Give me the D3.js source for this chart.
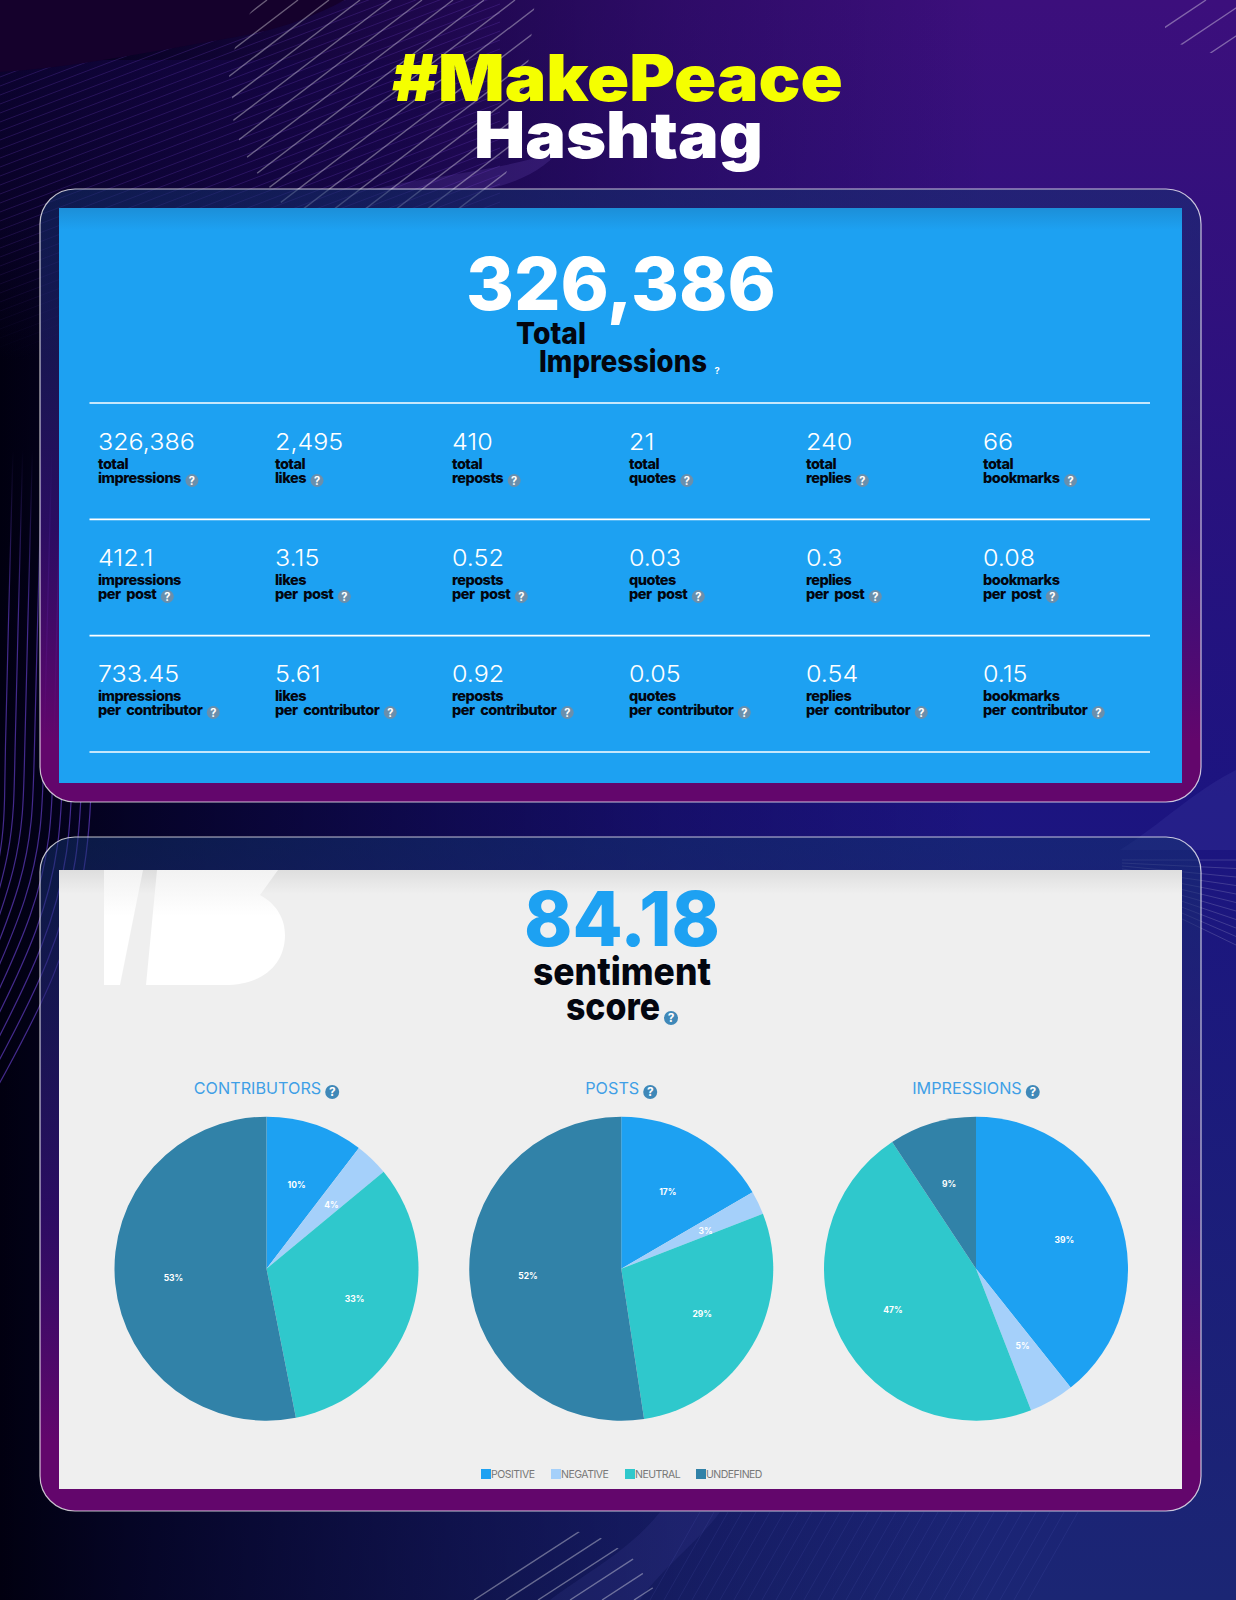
<!DOCTYPE html>
<html lang="en">
<head>
    <meta charset="UTF-8">
    <title>#MakePeace Hashtag</title>
    <script src="https://d3js.org/d3.v7.min.js"></script>
    <style>
        html, body { margin: 0; padding: 0; background: #02031a; }
        svg { display: block; }
        text { font-family: Inter, sans-serif; }
        .stat-value { fill: #fff; font-size: 23px; font-weight: 300; }
        .stat-label { fill: #03060f; font-size: 14.5px; font-weight: 800; letter-spacing: -0.5px; word-spacing: 3px; }
        .help text { fill: #fff; font-weight: 700; text-anchor: middle; }
        .pie-title { fill: #3f9fe6; font-size: 16.2px; font-weight: 400; text-anchor: middle; }
        .pct { fill: #fff; font-size: 8.5px; font-weight: 700; text-anchor: middle; }
        .legend-text { fill: #777; font-size: 10.5px; letter-spacing: -0.5px; }
    </style>
</head>
<body>
    <svg width="1236" height="1600"></svg>
    <script>
        const metrics = ["impressions", "likes", "reposts", "quotes", "replies", "bookmarks"];
        const rowNames = ["total", "per post", "per contributor"];
        const totals = ["326,386", "2,495", "410", "21", "240", "66"];
        const perPost = ["412.1", "3.15", "0.52", "0.03", "0.3", "0.08"];
        const perContributor = ["733.45", "5.61", "0.92", "0.05", "0.54", "0.15"];

        const sentiments = ["POSITIVE", "NEGATIVE", "NEUTRAL", "UNDEFINED"];
        const sentimentColors = ["#1da1f2", "#a5d0fa", "#2fc8cc", "#3182a8"];
        const pieNames = ["CONTRIBUTORS", "POSTS", "IMPRESSIONS"];
        const contributors = [10.4, 3.6, 32.9, 53.1];
        const posts = [16.6, 2.5, 28.5, 52.4];
        const impressions = [39.3, 4.8, 46.6, 9.3];

        const svg = d3.select("svg");
        const defs = svg.append("defs");

        function gradient(id, x2, y2, stops) {
            const g = defs.append("linearGradient").attr("id", id)
                .attr("x1", 0).attr("y1", 0).attr("x2", x2).attr("y2", y2);
            stops.forEach(s => g.append("stop").attr("offset", s[0]).attr("stop-color", s[1]).attr("stop-opacity", s[2]));
        }
        gradient("bgV", 0, 1, [[0, "#3c0f7c", 1], [0.5, "#1c1480", 1], [1, "#1b2674", 1]]);
        gradient("bgH", 1, 0, [[0, "#010010", 1], [0.12, "#02001a", 0.85], [0.55, "#05002a", 0.25], [0.8, "#05002a", 0]]);
        gradient("frame", 0, 1, [[0, "#12326e", 0.5], [0.55, "#38107a", 0.75], [0.9, "#63066c", 1], [1, "#63066c", 1]]);
        gradient("shadeBlue", 0, 1, [[0, "#1c8fd8", 1], [1, "#1da1f2", 1]]);
        gradient("shadeGray", 0, 1, [[0, "#dedede", 1], [1, "#efefef", 1]]);
        gradient("logo", 0, 1, [[0, "#f2f2f2", 1], [0.4, "#ffffff", 1], [1, "#ffffff", 1]]);
        gradient("topGlow", 0, 1, [[0, "#140548", 0.55], [0.5, "#140548", 0.4], [1, "#140548", 0]]);
        gradient("fineFade", 0, 1, [[0, "#fff", 1], [0.55, "#fff", 1], [1, "#fff", 0]]);
        const fade = defs.append("linearGradient").attr("id", "curveFade").attr("gradientUnits", "userSpaceOnUse")
            .attr("x1", 0).attr("y1", 450).attr("x2", 0).attr("y2", 620);
        fade.append("stop").attr("offset", 0).attr("stop-color", "#6f45dd").attr("stop-opacity", 0);
        fade.append("stop").attr("offset", 1).attr("stop-color", "#6f45dd").attr("stop-opacity", 0.6);

        // background
        svg.append("rect").attr("width", 1236).attr("height", 1600).attr("fill", "url(#bgV)");
        svg.append("rect").attr("width", 1236).attr("height", 1600).attr("fill", "url(#bgH)");
        svg.append("rect").attr("y", 60).attr("width", 420).attr("height", 300).attr("fill", "url(#topGlow)");
        const wave = "M0,0 L345,0 C310,18 280,30 230,38 C150,52 70,68 0,72 Z";
        svg.append("path").attr("d", wave).attr("fill", "#15012c");
        svg.append("path").attr("d", "M1236,770 L1236,850 L1120,850 C1160,825 1195,790 1236,770 Z").attr("fill", "#4a4ab0").attr("opacity", 0.2);
        svg.append("path").attr("d", "M370,190 C430,175 500,172 560,150 C540,175 500,190 470,190 Z").attr("fill", "#7a55c8").attr("opacity", 0.2);
        svg.append("path").attr("d", "M640,1600 C660,1570 700,1540 720,1512 L660,1512 C630,1550 590,1570 550,1600 Z").attr("fill", "#5a5ac0").attr("opacity", 0.12);

        // fine lines behind the wave, top left and bottom right
        defs.append("clipPath").attr("id", "fineTop").append("path").attr("d", "M0,72 C70,68 150,52 230,38 C280,30 310,18 345,0 L560,0 L560,360 L0,360 Z");
        defs.append("mask").attr("id", "fineMask").attr("maskUnits", "userSpaceOnUse")
            .attr("x", 0).attr("y", 0).attr("width", 560).attr("height", 360)
            .append("rect").attr("width", 560).attr("height", 360).attr("fill", "url(#fineFade)");
        const fineTop = svg.append("g").attr("clip-path", "url(#fineTop)").attr("mask", "url(#fineMask)").attr("fill", "none")
            .attr("stroke", "#7a48d0").attr("stroke-opacity", 0.3).attr("stroke-width", 0.8);
        d3.range(50, 560, 9).forEach(y => fineTop.append("line")
            .attr("x1", 0).attr("y1", y).attr("x2", 500).attr("y2", y - 190));
        const fineBottom = svg.append("g").attr("stroke", "#7a80e0").attr("stroke-opacity", 0.14).attr("stroke-width", 0.8);
        d3.range(650, 1040, 14).forEach(x => fineBottom.append("line")
            .attr("x1", x).attr("y1", 1600).attr("x2", x + 50).attr("y2", 1512));

        // diagonal line bundles, each clipped to a rough patch
        function hatch(id, patch, slope, intercepts) {
            defs.append("clipPath").attr("id", id).append("polygon").attr("points", patch);
            const g = svg.append("g").attr("clip-path", `url(#${id})`)
                .attr("stroke", "#fff").attr("stroke-opacity", 0.36).attr("stroke-width", 1.4);
            intercepts.forEach(o => g.append("line")
                .attr("x1", o).attr("y1", 0).attr("x2", o - slope * 1600).attr("y2", 1600));
        }
        hatch("h1", "262,0 250,13 235,47 229,75 232,96 233,119 239,140 247,157 257,173 270,188 285,208 475,208 505,178 520,120 530,50 535,0",
            1.31, d3.range(267, 830, 31));
        hatch("h2", "1165,0 1236,0 1236,60 1165,40", 1.5, d3.range(1206, 1340, 42));
        hatch("h3", "436,1586 524,1526 556,1526 599,1537 631,1556 661,1600 440,1600", 1.54, d3.range(2938, 3200, 32));

        // curved lines on the left edge
        const curve = d3.line().curve(d3.curveBasis);
        const curveG = svg.append("g").attr("fill", "none").attr("stroke", "url(#curveFade)").attr("stroke-width", 1.2);
        d3.range(5, 95, 9.7).forEach(x => {
            const endY = 865 + 2.4 * x;
            curveG.append("path").attr("d", curve([
                [x + 8, 450], [x + 3, 640], [x, 760],
                [x * 0.96, 760 + (endY - 760) * 0.33], [x * 0.63, 760 + (endY - 760) * 0.66], [-5, endY + 5]
            ]));
        });

        // horizontal lines on the right edge
        const rightG = svg.append("g").attr("stroke", "#fff").attr("stroke-opacity", 0.16).attr("stroke-width", 1);
        d3.range(0, 11).forEach(i => rightG.append("line")
            .attr("x1", 1122).attr("y1", 860 + i * 3)
            .attr("x2", 1236).attr("y2", 860 + i * 8.5));

        // panels
        const panelX = 59, panelW = 1123;
        [[189, 613], [837, 674]].forEach(p => {
            svg.append("rect").attr("x", 40).attr("y", p[0]).attr("width", 1161).attr("height", p[1])
                .attr("rx", 35).attr("fill", "url(#frame)")
                .attr("stroke", "#fff").attr("stroke-opacity", 0.75).attr("stroke-width", 1.2);
        });
        svg.append("rect").attr("x", panelX).attr("y", 208).attr("width", panelW).attr("height", 575).attr("fill", "#1da1f2");
        svg.append("rect").attr("x", panelX).attr("y", 208).attr("width", panelW).attr("height", 22).attr("fill", "url(#shadeBlue)");
        svg.append("rect").attr("x", panelX).attr("y", 870).attr("width", panelW).attr("height", 619).attr("fill", "#efefef");
        svg.append("rect").attr("x", panelX).attr("y", 870).attr("width", panelW).attr("height", 24).attr("fill", "url(#shadeGray)");
        svg.append("path").attr("d", "M104,870 L143,870 L120,985 L104,985 Z M157,870 L278,870 L260,895 C278,905 285,920 285,935 C285,965 262,985 225,985 L146,985 Z")
            .attr("fill", "url(#logo)");

        // big text, stretched sideways to the reference width
        function bigText(txt, x, y, size, weight, fill, len) {
            const t = svg.append("text").attr("text-anchor", "start")
                .attr("font-size", size).attr("font-weight", weight).attr("fill", fill).text(txt);
            t.attr("transform", `translate(${x},${y}) scale(${len / t.node().getComputedTextLength()},1)`);
        }
        bigText("#MakePeace", 392, 101, 64, 900, "#f5ff00", 451);
        bigText("Hashtag", 474, 158, 64, 900, "#ffffff", 289);
        bigText("326,386", 466, 310, 73, 800, "#ffffff", 310);
        bigText("Total", 516, 344, 30, 800, "#03060f", 70);
        bigText("Impressions", 539, 372, 30, 800, "#03060f", 168);
        bigText("84.18", 524, 946, 75, 800, "#1da1f2", 196);
        bigText("sentiment", 533, 985, 38, 800, "#03060f", 178);
        bigText("score", 566, 1020, 38, 800, "#03060f", 94);

        function help(x, y, r, fill) {
            const g = svg.append("g").attr("class", "help").attr("transform", `translate(${x},${y})`);
            if (fill) g.append("circle").attr("r", r).attr("fill", fill);
            g.append("text").attr("y", r * 0.62).attr("font-size", r * 1.7).text("?");
        }
        help(717, 371, 5.5, null);
        help(671, 1018, 7, "#3f88b8");

        // stats table
        const colX = d3.scalePoint().domain(metrics).range([98, 983]);
        const rowY = d3.scalePoint().domain(rowNames).range([449.5, 681.5]);
        const ruleY = d3.scaleLinear().domain([0, 3]).range([403, 752]);
        d3.range(4).forEach(i => svg.append("line")
            .attr("x1", 89.5).attr("x2", 1150).attr("y1", ruleY(i)).attr("y2", ruleY(i))
            .attr("stroke", "#fff").attr("stroke-width", 1.6));

        [totals, perPost, perContributor].forEach((values, r) => {
            const row = rowNames[r];
            metrics.forEach((m, c) => {
                const x = colX(m), y = rowY(row);
                svg.append("text").attr("class", "stat-value")
                    .attr("transform", `translate(${x},${y + 0.5}) scale(1.09,1)`).text(values[c]);
                const first = r === 0 ? row : m;
                const second = r === 0 ? m : row;
                svg.append("text").attr("class", "stat-label").attr("x", x).attr("y", y + 19).text(first);
                const t = svg.append("text").attr("class", "stat-label").attr("x", x).attr("y", y + 33).text(second);
                help(x + t.node().getComputedTextLength() + 11, y + 31, 6.5, "#6a8fac");
            });
        });

        // pies
        const pieValues = [contributors, posts, impressions];
        const color = d3.scaleOrdinal().domain(sentiments).range(sentimentColors);
        const pieX = d3.scalePoint().domain(pieNames).range([266.5, 976]);
        const radius = 152;
        const arc = d3.arc().innerRadius(0).outerRadius(radius);
        const labelArc = d3.arc().innerRadius(radius * 0.615).outerRadius(radius * 0.615);
        const pie = d3.pie().sort(null).value(d => d.value);
        pieNames.forEach((name, i) => {
            const cx = pieX(name);
            const t = svg.append("text").attr("class", "pie-title").attr("x", cx - 9).attr("y", 1094).text(name);
            help(cx - 9 + t.node().getComputedTextLength() / 2 + 11, 1092, 7, "#3f88b8");
            const g = svg.append("g").attr("transform", `translate(${cx},1268.7)`);
            const slices = pie(sentiments.map((s, j) => ({ name: s, value: pieValues[i][j] })));
            g.selectAll("path").data(slices).enter().append("path")
                .attr("d", arc).attr("fill", d => color(d.data.name));
            g.selectAll("text").data(slices).enter().append("text")
                .attr("class", "pct")
                .attr("transform", d => {
                    const c = labelArc.centroid(d);
                    return `translate(${c[0]},${c[1] * 0.95})`;
                })
                .attr("dy", 3.5)
                .text(d => Math.round(d.data.value) + "%");
        });

        // legend
        const legendX = d3.scaleOrdinal().domain(sentiments).range([481, 551, 625, 696]);
        sentiments.forEach(s => {
            svg.append("rect").attr("x", legendX(s)).attr("y", 1469).attr("width", 10).attr("height", 10).attr("fill", color(s));
            svg.append("text").attr("class", "legend-text").attr("x", legendX(s) + 10).attr("y", 1478).text(s);
        });
    </script>
</body>
</html>
